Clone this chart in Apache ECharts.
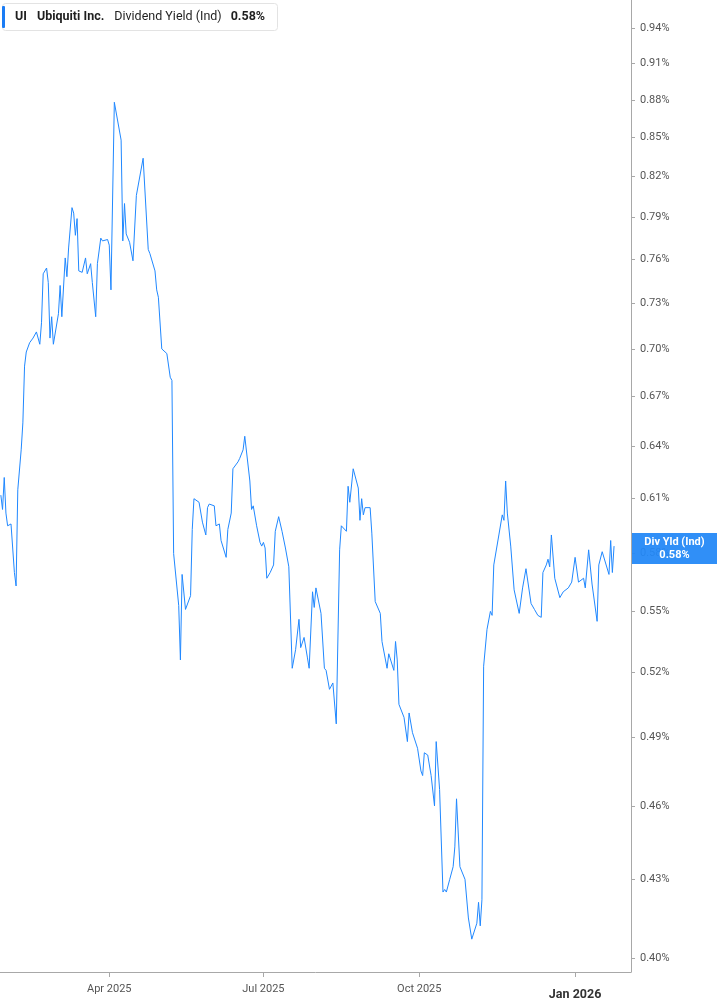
<!DOCTYPE html>
<html>
<head>
<meta charset="utf-8">
<script src="https://cdn.jsdelivr.net/npm/echarts@6/dist/echarts.min.js"></script>
<style>
html,body{margin:0;padding:0;background:#fff;}
#chart{width:717px;height:1005px;}
</style>
</head>
<body>
<div id="chart"></div>
<script>
const dates = [
'2025-01-27','2025-01-28','2025-01-29','2025-01-30','2025-01-31','2025-02-02','2025-02-03','2025-02-04','2025-02-05','2025-02-06',
'2025-02-08','2025-02-09','2025-02-10','2025-02-11','2025-02-12','2025-02-13','2025-02-15','2025-02-17','2025-02-19','2025-02-20',
'2025-02-21','2025-02-23','2025-02-24','2025-02-25','2025-02-26','2025-02-27','2025-03-02','2025-03-03','2025-03-04','2025-03-06',
'2025-03-07','2025-03-08','2025-03-10','2025-03-11','2025-03-12','2025-03-13','2025-03-14','2025-03-16','2025-03-18','2025-03-19',
'2025-03-21','2025-03-22','2025-03-24','2025-03-25','2025-03-27','2025-03-28','2025-03-31','2025-04-01','2025-04-02','2025-04-04',
'2025-04-08','2025-04-09','2025-04-10','2025-04-11','2025-04-13','2025-04-15','2025-04-17','2025-04-21','2025-04-24','2025-04-25',
'2025-04-28','2025-04-29','2025-04-30','2025-05-02','2025-05-05','2025-05-07','2025-05-08','2025-05-09','2025-05-12','2025-05-13',
'2025-05-14','2025-05-15','2025-05-16','2025-05-19','2025-05-20','2025-05-21','2025-05-22','2025-05-24','2025-05-26','2025-05-28',
'2025-05-29','2025-05-30','2025-06-02','2025-06-03','2025-06-05','2025-06-06','2025-06-09','2025-06-10','2025-06-12','2025-06-13',
'2025-06-16','2025-06-17','2025-06-19','2025-06-20','2025-06-23','2025-06-24','2025-06-25','2025-06-26','2025-06-27','2025-06-29',
'2025-06-30','2025-07-01','2025-07-02','2025-07-03','2025-07-05','2025-07-07','2025-07-08','2025-07-10','2025-07-12','2025-07-14',
'2025-07-15','2025-07-16','2025-07-18','2025-07-20','2025-07-22','2025-07-23','2025-07-25','2025-07-27','2025-07-28','2025-07-30',
'2025-07-31','2025-08-01','2025-08-04','2025-08-05','2025-08-06','2025-08-07','2025-08-09','2025-08-11','2025-08-13','2025-08-15',
'2025-08-16','2025-08-19','2025-08-20','2025-08-21','2025-08-23','2025-08-26','2025-08-27','2025-08-28','2025-08-29','2025-08-30',
'2025-09-02','2025-09-03','2025-09-05','2025-09-08','2025-09-09','2025-09-12','2025-09-13','2025-09-16','2025-09-17','2025-09-18',
'2025-09-19','2025-09-22','2025-09-24','2025-09-25','2025-09-27','2025-09-30','2025-10-02','2025-10-03','2025-10-04','2025-10-06',
'2025-10-08','2025-10-10','2025-10-11','2025-10-13','2025-10-15','2025-10-16','2025-10-17','2025-10-19','2025-10-21','2025-10-22',
'2025-10-23','2025-10-25','2025-10-28','2025-10-30','2025-10-31','2025-11-01','2025-11-04','2025-11-05','2025-11-06','2025-11-07',
'2025-11-08','2025-11-10','2025-11-12','2025-11-13','2025-11-14','2025-11-15','2025-11-17','2025-11-19','2025-11-20','2025-11-21',
'2025-11-22','2025-11-24','2025-11-26','2025-11-29','2025-12-01','2025-12-03','2025-12-06','2025-12-08','2025-12-10','2025-12-12',
'2025-12-13','2025-12-15','2025-12-16','2025-12-17','2025-12-18','2025-12-20','2025-12-23','2025-12-25','2025-12-28','2025-12-30',
'2026-01-01','2026-01-03','2026-01-06','2026-01-07','2026-01-09','2026-01-11','2026-01-14','2026-01-15','2026-01-17','2026-01-21',
'2026-01-22','2026-01-23','2026-01-24'
];
const yields = [
0.612,0.604,0.622,0.602,0.595,0.596,0.597,0.570,0.563,0.615,
0.638,0.654,0.689,0.698,0.699,0.704,0.707,0.711,0.703,0.717,
0.750,0.754,0.744,0.707,0.721,0.703,0.723,0.742,0.721,0.761,
0.748,0.768,0.797,0.793,0.777,0.789,0.752,0.751,0.761,0.750,
0.757,0.744,0.721,0.757,0.775,0.773,0.774,0.770,0.739,0.878,
0.848,0.773,0.800,0.778,0.772,0.759,0.806,0.834,0.767,0.764,
0.752,0.739,0.734,0.700,0.697,0.682,0.680,0.580,0.553,0.526,
0.569,0.570,0.551,0.558,0.593,0.610,0.611,0.608,0.597,0.590,
0.605,0.607,0.606,0.595,0.596,0.587,0.578,0.593,0.602,0.627,
0.631,0.633,0.638,0.646,0.620,0.604,0.606,0.606,0.595,0.586,
0.584,0.586,0.583,0.567,0.570,0.574,0.592,0.600,0.592,0.583,
0.584,0.573,0.522,0.531,0.546,0.532,0.537,0.527,0.522,0.560,
0.552,0.562,0.549,0.549,0.522,0.521,0.512,0.515,0.496,0.582,
0.595,0.592,0.617,0.608,0.627,0.616,0.598,0.610,0.601,0.605,
0.605,0.591,0.555,0.549,0.535,0.522,0.529,0.521,0.535,0.526,
0.505,0.499,0.488,0.501,0.492,0.485,0.475,0.473,0.483,0.482,
0.473,0.460,0.488,0.467,0.425,0.426,0.425,0.430,0.435,0.443,
0.463,0.435,0.430,0.415,0.415,0.407,0.413,0.421,0.412,0.422,
0.523,0.541,0.550,0.548,0.574,0.573,0.590,0.601,0.598,0.620,
0.602,0.584,0.561,0.549,0.562,0.572,0.554,0.551,0.548,0.547,
0.570,0.574,0.577,0.573,0.590,0.567,0.557,0.560,0.562,0.565,
0.578,0.565,0.567,0.562,0.582,0.564,0.545,0.574,0.581,0.569,
0.587,0.570,0.584
];
const yTicks = [0.40,0.43,0.46,0.49,0.52,0.55,0.58,0.61,0.64,0.67,0.70,0.73,0.76,0.79,0.82,0.85,0.88,0.91,0.94];
const xTicks = ['2025-04-01','2025-07-01','2025-10-01','2026-01-01'];
const yRange = [0.3949, 0.9645];
const xRange = ['2025-01-26 12:00', '2026-02-03 00:00'];
const currentYield = 0.58;

const MONTHS = ['Jan','Feb','Mar','Apr','May','Jun','Jul','Aug','Sep','Oct','Nov','Dec'];
function toTime(s){
  const p = s.split(/[- :]/).map(Number);
  return new Date(p[0], p[1]-1, p[2], p[3]||0, p[4]||0).getTime();
}

const chart = echarts.init(document.getElementById('chart'), null, {renderer:'canvas'});
const seriesData = dates.map((d,i)=>[toTime(d), Math.log(yields[i])]);
const lastVal = yields[yields.length-1];

chart.setOption({
  animation:false,
  backgroundColor:'#ffffff',
  textStyle:{fontFamily:'Roboto, "DejaVu Sans", sans-serif'},
  title:{
    left:2, top:3,
    padding:[3,13,3,0],
    backgroundColor:'#ffffff',
    borderColor:'#e3e3e3', borderWidth:1, borderRadius:3,
    text:'{bar|}{s|UI}{s|Ubiquiti Inc.}{n|Dividend Yield (Ind)}{v|' + currentYield.toFixed(2) + '%}',
    textStyle:{
      rich:{
        bar:{width:3, height:22, backgroundColor:'#1a7cf5', borderRadius:1},
        s:{fontFamily:'Roboto', fontWeight:'bold', fontSize:12.5, color:'#1f1f1f', padding:[0,0,0,10]},
        n:{fontFamily:'Roboto', fontWeight:'normal', fontSize:12.5, color:'#1f1f1f', padding:[0,0,0,10]},
        v:{fontFamily:'Roboto', fontWeight:'bold', fontSize:12.5, color:'#1f1f1f', padding:[0,0,0,9]}
      }
    }
  },
  grid:{left:0, right:86, top:0, bottom:33, outerBoundsMode:'none'},
  xAxis:{
    type:'value',
    min:toTime(xRange[0]), max:toTime(xRange[1]),
    splitLine:{show:false},
    axisLine:{show:true, lineStyle:{color:'#a8a8a8', width:1}},
    axisTick:{show:true, length:5, lineStyle:{color:'#a8a8a8'}, customValues:xTicks.map(toTime)},
    axisLabel:{
      customValues:xTicks.map(toTime),
      margin:12, fontSize:11, color:'#555555', fontFamily:'Roboto',
      formatter:function(v){
        const d = new Date(v);
        const s = MONTHS[d.getMonth()] + ' ' + d.getFullYear();
        return d.getMonth()===0 ? '{b|' + s + '}' : s;
      },
      rich:{b:{fontWeight:'bold', fontSize:12.5, color:'#333333', fontFamily:'Roboto', padding:[4,0,0,0]}}
    }
  },
  yAxis:{
    type:'value',
    position:'right',
    min:Math.log(yRange[0]), max:Math.log(yRange[1]),
    splitLine:{show:false},
    axisLine:{show:true, lineStyle:{color:'#a8a8a8', width:1}},
    axisTick:{show:true, length:4, lineStyle:{color:'#a8a8a8'}, customValues:yTicks.map(Math.log)},
    axisLabel:{
      customValues:yTicks.map(Math.log),
      margin:9, fontSize:11, color:'#555555', fontFamily:'Roboto',
      formatter:function(v){ return Math.exp(v).toFixed(2) + '%'; }
    }
  },
  series:[{
    type:'line',
    data:seriesData,
    showSymbol:false,
    symbol:'none',
    clip:false,
    lineStyle:{color:'#2088ff', width:1},
    markLine:{
      silent:true,
      symbol:['none','none'],
      lineStyle:{color:'rgba(0,0,0,0)', width:0},
      label:{
        show:true, position:'end', distance:1,
        backgroundColor:'rgba(35,136,247,0.94)',
        padding:[3,7,2,7],
        formatter:'{a|Div Yld (Ind)}\n{a|' + currentYield.toFixed(2) + '%}',
        rich:{a:{width:71, align:'center', color:'#ffffff', fontWeight:'bold', fontSize:11, lineHeight:13, fontFamily:'Roboto'}}
      },
      data:[{yAxis:Math.log(lastVal)}]
    }
  }]
});
</script>
</body>
</html>
